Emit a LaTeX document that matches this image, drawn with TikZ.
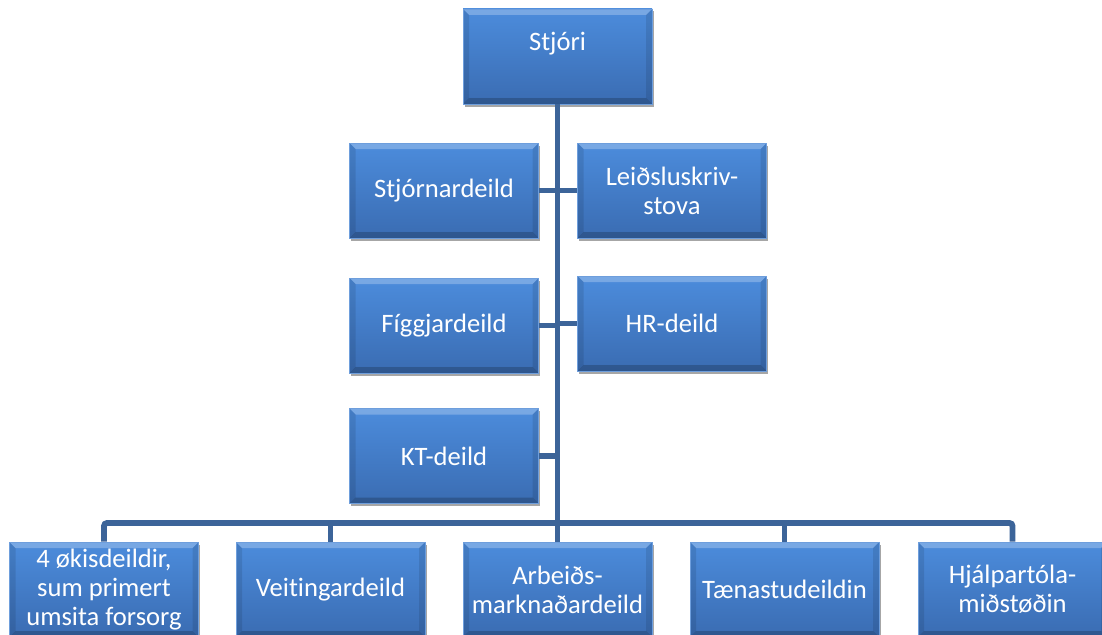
\documentclass[tikz,border=0pt]{standalone}
\usepackage{fontspec}
\setmainfont{Carlito}[Ligatures=NoCommon]
\usetikzlibrary{shadows}

\definecolor{linkblue}{RGB}{60,100,153}
\definecolor{boxtop}{RGB}{76,140,220}
\definecolor{boxbot}{RGB}{58,108,178}
\definecolor{boxedge}{RGB}{110,158,220}

\begin{document}
\begin{tikzpicture}[x=1pt, y=-1pt,
  dept/.style={rectangle, minimum width=189pt, minimum height=95pt, inner sep=2pt,
    top color=boxtop, bottom color=boxbot, draw=boxedge, line width=0.6pt,
    text=white, font=\fontsize{26.6}{29}\selectfont, align=center,
    drop shadow={shadow xshift=1.5pt, shadow yshift=-2.5pt, opacity=0.35, fill=black},
    path picture={
      \coordinate (nw) at (path picture bounding box.north west);
      \coordinate (ne) at (path picture bounding box.north east);
      \coordinate (sw) at (path picture bounding box.south west);
      \coordinate (se) at (path picture bounding box.south east);
      \fill[white, opacity=.25] (nw) -- (ne) -- ([shift={(-6pt,-6pt)}]ne) -- ([shift={(6pt,-6pt)}]nw) -- cycle;
      \fill[black, opacity=.2] (sw) -- (se) -- ([shift={(-6pt,6pt)}]se) -- ([shift={(6pt,6pt)}]sw) -- cycle;
      \fill[black, opacity=.1] (nw) -- ([shift={(6pt,-6pt)}]nw) -- ([shift={(6pt,6pt)}]sw) -- (sw) -- cycle;
      \fill[black, opacity=.1] (ne) -- ([shift={(-6pt,-6pt)}]ne) -- ([shift={(-6pt,6pt)}]se) -- (se) -- cycle;
    }},
  link/.style={draw=linkblue, line width=5.8pt}]
  \useasboundingbox (0,0) rectangle (1102,634);
  % top
  \node[dept, text depth=30pt] (chief) at (557.5,56.5) {Stjóri};
  % staff units
  \node[dept] (admin)   at (444,190.5) {Stjórnardeild};
  \node[dept] (legal)   at (672,190.5) {Leiðsluskriv-\\stova};
  \node[dept] (finance) at (444,325.5) {Fíggjardeild};
  \node[dept] (hr)      at (672,323.5) {HR-deild};
  \node[dept] (it)      at (444,456)   {KT-deild};
  % line units
  \node[dept] (area)    at (104,589.5)   {4 økisdeildir,\\sum primert\\umsita forsorg};
  \node[dept] (grant)   at (330.5,589.5) {Veitingardeild};
  \node[dept] (labour)  at (557.5,589.5) {Arbeiðs-\\marknaðardeild};
  \node[dept] (service) at (784.5,589.5) {Tænastudeildin};
  \node[dept] (aids)    at (1012.5,589.5) {Hjálpartóla-\\miðstøðin};
  % links
  \coordinate (bus) at (557.5,523);
  \draw[link] (chief.south) -- (labour.north);
  \foreach \n in {admin, finance, it} {
    \draw[link] (\n.east) -- (\n.east -| chief.south);
  };
  \foreach \n in {legal, hr} {
    \draw[link] (\n.west) -- (\n.west -| chief.south);
  };
  \draw[link, rounded corners=3pt] (area.north) |- (bus) -| (aids.north);
  \foreach \n in {grant, service} {
    \draw[link] (\n.north) -- (\n.north |- bus);
  };
\end{tikzpicture}
\end{document}
